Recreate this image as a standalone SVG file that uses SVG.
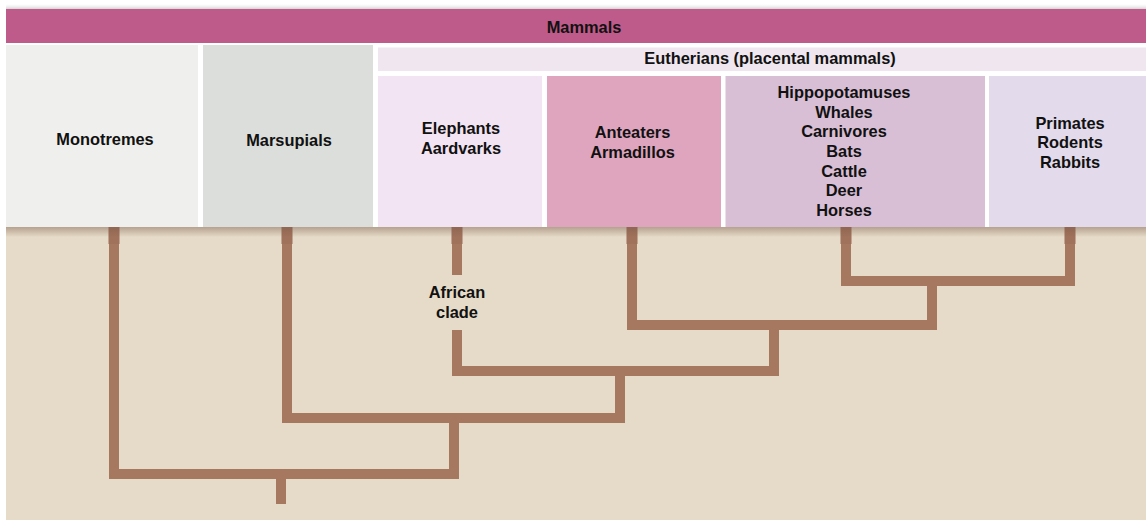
<svg xmlns="http://www.w3.org/2000/svg" width="1146" height="521" viewBox="0 0 1146 521">
  <defs>
    <linearGradient id="shadowDown" x1="0" y1="0" x2="0" y2="1">
      <stop offset="0" stop-color="#7a5a48" stop-opacity="0.45"/>
      <stop offset="1" stop-color="#7a5a48" stop-opacity="0"/>
    </linearGradient>
    <linearGradient id="shadowUp" x1="0" y1="1" x2="0" y2="0">
      <stop offset="0" stop-color="#c8c8c8" stop-opacity="0.8"/>
      <stop offset="1" stop-color="#ffffff" stop-opacity="0"/>
    </linearGradient>
    <style>
      .lbl { font-family: "Liberation Sans", Arial, sans-serif; font-weight: bold; font-size: 16.4px; fill: #111; text-anchor: middle; }
      .br { fill: none; stroke: #a6785f; stroke-width: 10; stroke-linejoin: miter; stroke-linecap: butt; }
      .stub { fill: #a0715b; }
    </style>
  </defs>
  <rect x="0" y="0" width="1146" height="521" fill="#ffffff"/>
  <rect x="6" y="3" width="1140" height="6" fill="url(#shadowUp)"/>
  <!-- tan background -->
  <rect x="6" y="227" width="1140" height="293" fill="#e5dbc8"/>

  <g id="mammals">
    <rect x="6" y="9" width="1140" height="34" fill="#bf5b8a"/>
    <text class="lbl" x="584" y="32.5">Mammals</text>
  </g>
  <g id="monotremes">
    <rect x="6" y="45" width="192" height="182" fill="#efefed"/>
    <text class="lbl" x="105" y="145">Monotremes</text>
  </g>
  <g id="marsupials">
    <rect x="203" y="45" width="170" height="182" fill="#dcdedb"/>
    <text class="lbl" x="289" y="145.5">Marsupials</text>
  </g>
  <g id="eutherians">
    <rect x="378" y="47.5" width="768" height="23.5" fill="#efe6ef"/>
    <text class="lbl" x="770" y="63.5">Eutherians (placental mammals)</text>
  </g>
  <g id="elephants">
    <rect x="378" y="76" width="164" height="151" fill="#f2e4f2"/>
    <text class="lbl" x="461" y="134">Elephants</text>
    <text class="lbl" x="461" y="153.5">Aardvarks</text>
  </g>
  <g id="anteaters">
    <rect x="547" y="76" width="174" height="151" fill="#dfa5bf"/>
    <text class="lbl" x="632.5" y="138">Anteaters</text>
    <text class="lbl" x="632.5" y="157.5">Armadillos</text>
  </g>
  <g id="hippos">
    <rect x="725.5" y="76" width="259.5" height="151" fill="#d8bfd6"/>
    <text class="lbl" x="844" y="98">Hippopotamuses</text>
    <text class="lbl" x="844" y="117.7">Whales</text>
    <text class="lbl" x="844" y="137.3">Carnivores</text>
    <text class="lbl" x="844" y="157">Bats</text>
    <text class="lbl" x="844" y="176.7">Cattle</text>
    <text class="lbl" x="844" y="196.3">Deer</text>
    <text class="lbl" x="844" y="216">Horses</text>
  </g>
  <g id="primates">
    <rect x="989" y="76" width="157" height="151" fill="#e3dbeb"/>
    <text class="lbl" x="1070" y="128.7">Primates</text>
    <text class="lbl" x="1070" y="148.3">Rodents</text>
    <text class="lbl" x="1070" y="168.3">Rabbits</text>
  </g>

  <g id="connectors">
    <path class="br" d="M846 227 V281 H1070 V227"/>
    <path class="br" d="M632 227 V325 H932 V281"/>
    <path class="br" d="M457 227 V275"/>
    <path class="br" d="M457 330 V371 H774 V325"/>
    <path class="br" d="M287 227 V418 H620 V371"/>
    <path class="br" d="M114 227 V474 H454 V418"/>
    <path class="br" d="M281 474 V504"/>
    <rect class="stub" x="108.5" y="227" width="11" height="17"/>
    <rect class="stub" x="281.5" y="227" width="11" height="17"/>
    <rect class="stub" x="451.5" y="227" width="11" height="17"/>
    <rect class="stub" x="626.5" y="227" width="11" height="17"/>
    <rect class="stub" x="840.5" y="227" width="11" height="17"/>
    <rect class="stub" x="1064.5" y="227" width="11" height="17"/>
  </g>
  <g id="african-clade">
    <text class="lbl" x="457" y="297.7">African</text>
    <text class="lbl" x="457" y="317.7">clade</text>
  </g>
  <rect x="6" y="227" width="1140" height="10" fill="url(#shadowDown)"/>
</svg>
